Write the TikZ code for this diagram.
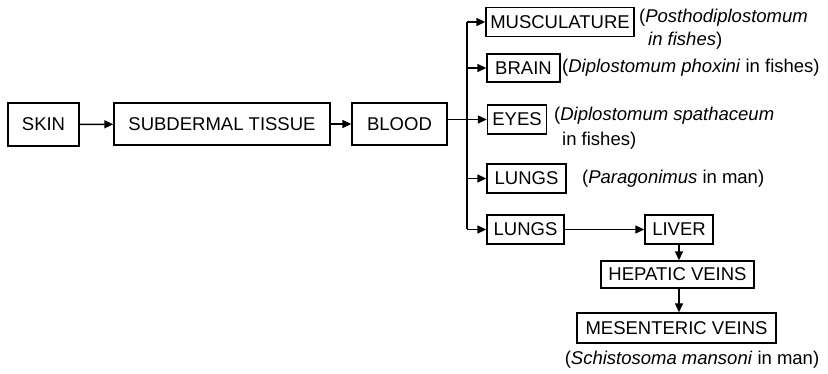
\documentclass[tikz,border=0pt]{standalone}
\usepackage{fontspec}
\setmainfont{Liberation Sans}
\usetikzlibrary{arrows.meta}
\tikzset{
  box/.style={draw, line width=1.4pt, inner sep=0pt, minimum height=29pt, font=\fontsize{18.5}{20}\selectfont, text height=13pt, text depth=0pt},
  note/.style={inner sep=0pt, anchor=west, font=\fontsize{18.5}{20}\selectfont, align=left},
  arr/.style={line width=1.4pt, -{Triangle[length=9pt,width=8pt]}},
  ln/.style={line width=1.4pt}
}
\begin{document}
\begin{tikzpicture}[x=1pt,y=-1pt]
\useasboundingbox (0,0) rectangle (828,374);
% main row
\node[box, minimum width=71pt, minimum height=43pt] (skin) at (43.5,124.5) {SKIN};
\node[box, minimum width=216pt, minimum height=42pt] (sub) at (222,124) {SUBDERMAL TISSUE};
\node[box, minimum width=95pt, minimum height=42pt] (blood) at (399.5,124) {BLOOD};
% branches
\node[box, minimum width=148pt] (musc) at (560,22) {MUSCULATURE};
\node[box, minimum width=73pt, minimum height=28pt] (brain) at (523.5,68) {BRAIN};
\node[box, minimum width=59pt] (eyes) at (517,119.5) {EYES};
\node[box, minimum width=79pt] (lungs) at (526.5,178.5) {LUNGS};
\node[box, minimum width=77pt] (lungsb) at (525.5,229.5) {LUNGS};
\node[box, minimum width=68pt] (liver) at (679,229.5) {LIVER};
\node[box, minimum width=153pt, minimum height=27pt] (hep) at (677.5,274.5) {HEPATIC VEINS};
\node[box, minimum width=199pt, minimum height=30pt] (mes) at (676.5,328) {MESENTERIC VEINS};
% notes
\node[note] (n1) at (639,18) {(\textit{Posthodiplostomum}};
\node[note] (n1b) at (648,41) {\textit{in fishes})};
\node[note] (n2) at (562,68) {(\textit{Diplostomum phoxini} in fishes)};
\node[note] (n3) at (554,116) {(\textit{Diplostomum spathaceum}};
\node[note] (n3b) at (562,141) {in fishes)};
\node[note] (n4) at (582,178.5) {(\textit{Paragonimus} in man)};
\node[inner sep=0pt, font=\fontsize{18.5}{20}\selectfont] (cap) at (692,360) {(\textit{Schistosoma mansoni} in man)};
% connectors
\coordinate (sp) at (467,0);
\draw[arr] (skin) -- (sub);
\draw[arr] (sub) -- (blood);
\draw[arr] (blood.east |- eyes) -- (eyes);
\draw[ln] (sp |- musc) -- (sp |- lungsb);
\draw[arr] (sp |- musc) -- (musc);
\draw[arr] (sp |- brain) -- (brain);
\draw[arr] (sp |- lungs) -- (lungs);
\draw[arr] (sp |- lungsb) -- (lungsb);
\draw[arr] (lungsb) -- (liver);
\draw[arr] (liver) -- (liver |- hep.north);
\draw[arr] (hep.south -| liver) -- (liver |- mes.north);
\end{tikzpicture}
\end{document}
